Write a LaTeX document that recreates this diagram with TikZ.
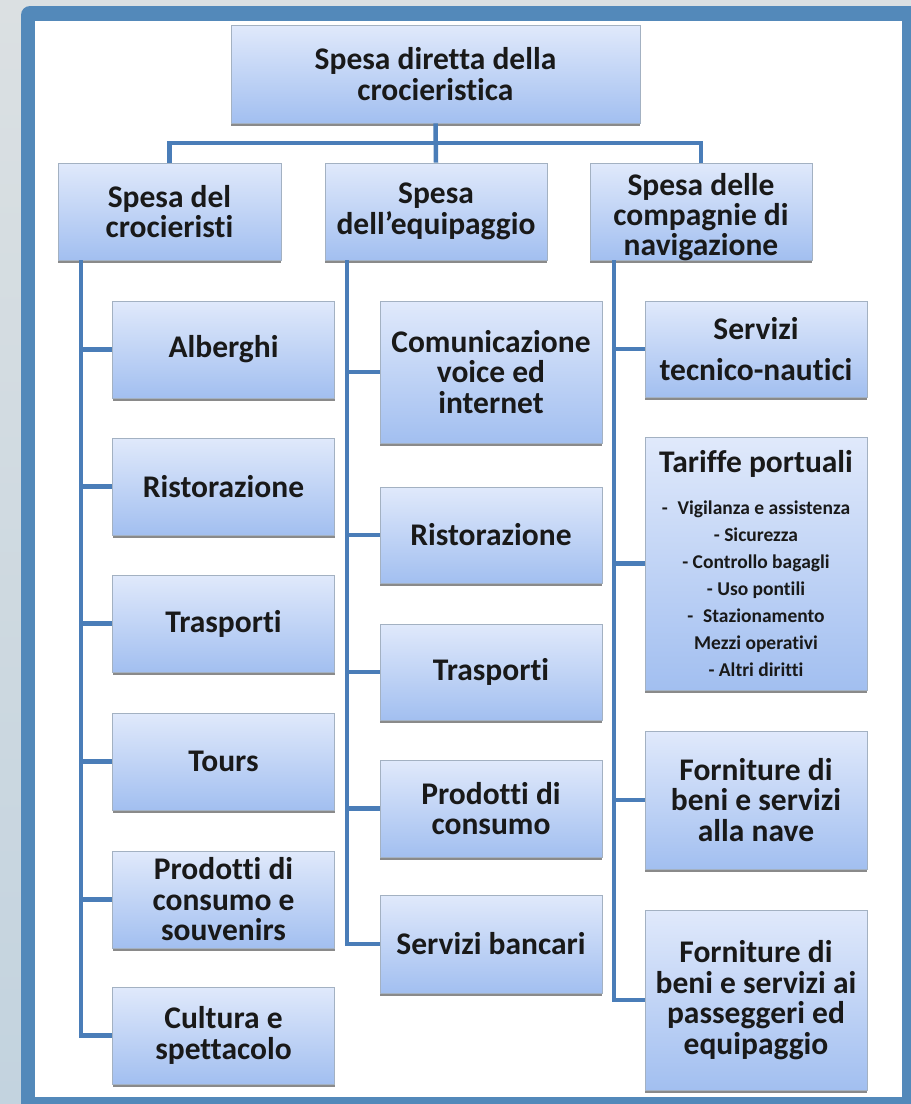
\documentclass[tikz,border=0pt]{standalone}
\usepackage{fontspec}
\setmainfont{Carlito}[Ligatures=NoCommon]
\usetikzlibrary{shadows}
\definecolor{pagebgtop}{HTML}{DBE0E2}
\definecolor{pagebgbot}{HTML}{C3D3DF}
\definecolor{frameblue}{HTML}{5389BA}
\definecolor{boxtop}{HTML}{E0E9FB}
\definecolor{boxbot}{HTML}{A2BFF0}
\definecolor{boxedge}{HTML}{A3B1C2}
\definecolor{linkblue}{HTML}{4A7DB8}
\begin{document}
\begin{tikzpicture}[x=1pt,y=-1pt,
  box/.style={draw=boxedge, line width=0.7pt, top color=boxtop, bottom color=boxbot,
    drop shadow={shadow xshift=0pt, shadow yshift=-2.5pt, opacity=0.7, fill=black!65},
    align=center, text=black!90, inner sep=0pt, minimum width=222pt, minimum height=97pt,
    font=\bfseries\fontsize{31.5}{30.5}\selectfont},
  link/.style={draw=linkblue, line width=4.5pt},
  smalltxt/.style={font=\bfseries\fontsize{19.5}{27}\selectfont}]
  \useasboundingbox (0,0) rectangle (911,1104);
  \clip (0,0) rectangle (911,1104);
  \fill[top color=pagebgtop, bottom color=pagebgbot] (0,0) rectangle (911,1104);
  \fill[frameblue, rounded corners=9pt] (21,6) rectangle (940,1130);
  \fill[white] (35,21) rectangle (902,1097);

  \node[box, minimum width=409pt, minimum height=98pt] (root) at (435.5,74) {Spesa diretta della\\crocieristica};
  \node[box, minimum width=223pt] (cruise) at (169.5,211.5) {Spesa del\\crocieristi};
  \node[box] (crew) at (436,211.5) {Spesa\\dell'equipaggio};
  \node[box, label={[align=center, text=black!90, font=\bfseries\fontsize{31.5}{30}\selectfont,
      yshift=-6pt]center:Spesa delle\\compagnie di\\navigazione}] (lines) at (701,211.5) {};

  \node[box] (cr1) at (223.5,349.5) {Alberghi};
  \node[box] (cr2) at (223.5,486.5) {Ristorazione};
  \node[box] (cr3) at (223.5,623.5) {Trasporti};
  \node[box] (cr4) at (223.5,761.5) {Tours};
  \node[box] (cr5) at (223.5,899.5) {Prodotti di\\consumo e\\souvenirs};
  \node[box] (cr6) at (223.5,1035.5) {Cultura e\\spettacolo};

  \node[box, minimum height=142pt] (cw1) at (491,372) {Comunicazione\\voice ed\\internet};
  \node[box, minimum height=96pt] (cw2) at (491,535) {Ristorazione};
  \node[box, minimum height=96pt] (cw3) at (491,672) {Trasporti};
  \node[box] (cw4) at (491,808.5) {Prodotti di\\consumo};
  \node[box, minimum height=98pt] (cw5) at (491,944) {Servizi bancari};

  \node[box, minimum height=96pt] (ln1) at (756,349) {Servizi\\[10pt]tecnico-nautici};
  \node[box, smalltxt, minimum height=253pt] (ln2) at (756,563.5)
    {{\fontsize{31.5}{30.5}\selectfont Tariffe portuali}\\[15pt]
     -\enspace Vigilanza e assistenza\\ - Sicurezza\\ - Controllo bagagli\\ - Uso pontili\\
     -\enspace Stazionamento\\ Mezzi operativi\\ - Altri diritti};
  \node[box, minimum height=138pt] (ln3) at (756,800) {Forniture di\\beni e servizi\\alla nave};
  \node[box, minimum height=180pt] (ln4) at (756,1000) {Forniture di\\beni e servizi ai\\passeggeri ed\\equipaggio};

  \coordinate (bus) at (0,143);
  \draw[link] (root.south) -- (crew.north);
  \draw[link] (cruise.north) -- (cruise.north |- bus) -- (lines.north |- bus) -- (lines.north);

  \coordinate (colA) at ([xshift=-88.5pt]cruise.south);
  \coordinate (colB) at ([xshift=-89pt]crew.south);
  \coordinate (colC) at ([xshift=-87pt]lines.south);
  \draw[link] (colA) |- (cr6.west);
  \draw[link] (colB) |- (cw5.west);
  \draw[link] (colC) |- (ln4.west);
  \foreach \n in {cr1,cr2,cr3,cr4,cr5}
    \draw[link] (\n.west) -- (\n.west -| colA);
  \foreach \n in {cw1,cw2,cw3,cw4}
    \draw[link] (\n.west) -- (\n.west -| colB);
  \foreach \n in {ln1,ln2,ln3}
    \draw[link] (\n.west) -- (\n.west -| colC);
\end{tikzpicture}
\end{document}
